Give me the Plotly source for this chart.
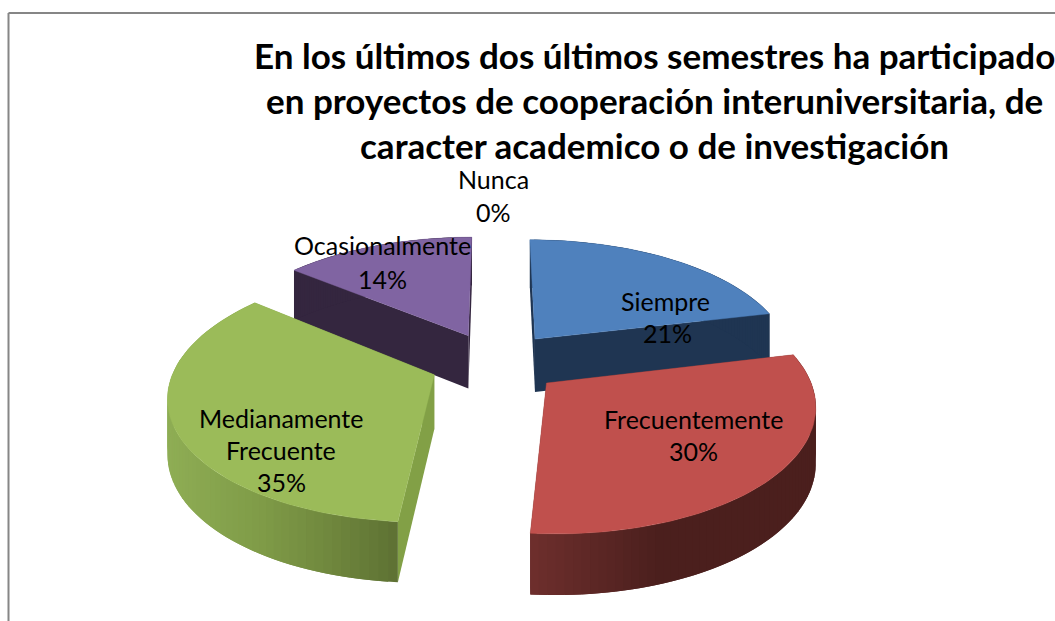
import numpy as np
import plotly.graph_objects as go

# ---- data ----
categories = ["Siempre", "Frecuentemente", "Medianamente Frecuente", "Ocasionalmente", "Nunca"]
values = [21.3, 30.0, 34.6, 14.1, 0.0]
title_lines = ["En los últimos dos últimos semestres ha participado",
               "en proyectos de cooperación interuniversitaria, de",
               "caracter academico o de investigación"]
top_colors = ["#4F81BD", "#C0504D", "#9BBB59", "#8064A2", "#4BACC6"]
face_colors = ["#1F3552", "#4C1F1D", "#82A046", "#34263F", "#2A6070"]
# side-wall shading: (screen x, rgb) anchors
wall_ramps = [
    [(500, (31, 53, 82)), (800, (31, 53, 82))],
    [(532, (110, 47, 45)), (660, (75, 31, 29)), (820, (75, 31, 29))],
    [(166, (143, 174, 85)), (260, (128, 156, 72)), (330, (112, 136, 62)), (402, (93, 112, 51))],
    [(280, (52, 38, 63)), (480, (52, 38, 63))],
    [(0, (0, 0, 0)), (1, (0, 0, 0))],
]

# ---- projection of the exploded pie ----
CX, CY = 495.5, 362.5
A, B = 258.0, 121.0
K = 0.152
K_WALL = 0.10
H = 54.0
EXPLODE = 0.254


def project(X, Y, Z=0.0):
    X, Y = np.asarray(X), np.asarray(Y)
    w = 1 + K * Y
    return CX + A * X / w, CY - B * Y / w + H * Z / (1 + K_WALL * Y)


def ramp(anchors, x):
    xs = [a[0] for a in anchors]
    return "rgb(%d,%d,%d)" % tuple(np.interp(x, xs, [a[1][i] for a in anchors]) for i in range(3))


fig = go.Figure()


def poly(xs, ys, color, edge=0.0):
    fig.add_trace(go.Scatter(x=list(xs) + [xs[0]], y=list(ys) + [ys[0]], mode="lines", fill="toself",
                             fillcolor=color, line=dict(color=color, width=edge),
                             hoverinfo="skip", showlegend=False))


total = sum(values)
edges = np.cumsum([0] + values) / total * 2 * np.pi
order = [0, 3, 2, 1]
for i in order:
    a0, a1 = edges[i], edges[i + 1]
    mid = (a0 + a1) / 2
    ox, oy = EXPLODE * np.sin(mid), EXPLODE * np.cos(mid)
    th = np.linspace(a0, a1, 70)
    X = ox + np.sin(th)
    Y = oy + np.cos(th)
    # radial walls
    for a in (a0, a1):
        ex, ey = ox + np.sin(a), oy + np.cos(a)
        xt, yt = project(np.array([ox, ex]), np.array([oy, ey]), 0)
        xb, yb = project(np.array([ox, ex]), np.array([oy, ey]), 1)
        poly([xt[0], xt[1], xb[1], xb[0]], [yt[0], yt[1], yb[1], yb[0]], face_colors[i])
    # outer wall: overlapping strips so no seams show
    xt, yt = project(X, Y, 0)
    xb, yb = project(X, Y, 1)
    n = len(th)
    for j in range(n - 1):
        k = min(j + 2, n - 1)
        sx = list(xt[j:k + 1]) + list(xb[j:k + 1][::-1])
        sy = list(yt[j:k + 1]) + list(yb[j:k + 1][::-1])
        poly(sx, sy, ramp(wall_ramps[i], (xt[j] + xt[j + 1]) / 2))
    # top
    cx0, cy0 = project(ox, oy)
    poly([float(cx0)] + list(xt), [float(cy0)] + list(yt), top_colors[i], edge=0.4)

annos = []
for line, y in zip(title_lines, [55, 100, 145]):
    annos.append(dict(x=654, y=y, text=line, showarrow=False, xanchor="center", yanchor="middle",
                      font=dict(family="Lato", size=35, color="black", weight="bold")))

pct = [f"{round(v)}%" for v in values]
labels = [("Siempre", 665, 301), (pct[0], 667, 333),
          ("Frecuentemente", 693, 419), (pct[1], 693, 451),
          ("Medianamente", 281, 418), ("Frecuente", 281, 450), (pct[2], 281, 482),
          ("Ocasionalmente", 382, 245), (pct[3], 382, 279),
          ("Nunca", 493, 179), (pct[4], 493, 212)]
for t, x, y in labels:
    annos.append(dict(x=x, y=y, text=t, showarrow=False, xanchor="center", yanchor="middle",
                      font=dict(family="Lato", size=25, color="black")))

fig.update_layout(
    width=1055, height=621, margin=dict(l=0, r=0, t=0, b=0),
    paper_bgcolor="white", plot_bgcolor="white", showlegend=False,
    xaxis=dict(range=[0, 1055], visible=False, fixedrange=True),
    yaxis=dict(range=[621, 0], visible=False, fixedrange=True),
    annotations=annos,
    shapes=[dict(type="line", x0=8.5, x1=8.5, y0=13, y1=621, line=dict(color="#868686", width=2)),
            dict(type="line", x0=8.5, x1=1055, y0=13, y1=13, line=dict(color="#868686", width=2))],
)
fig.write_html("out.html", config={"displayModeBar": False},
               post_script="document.body.style.margin='0';document.documentElement.style.overflow='hidden';")
